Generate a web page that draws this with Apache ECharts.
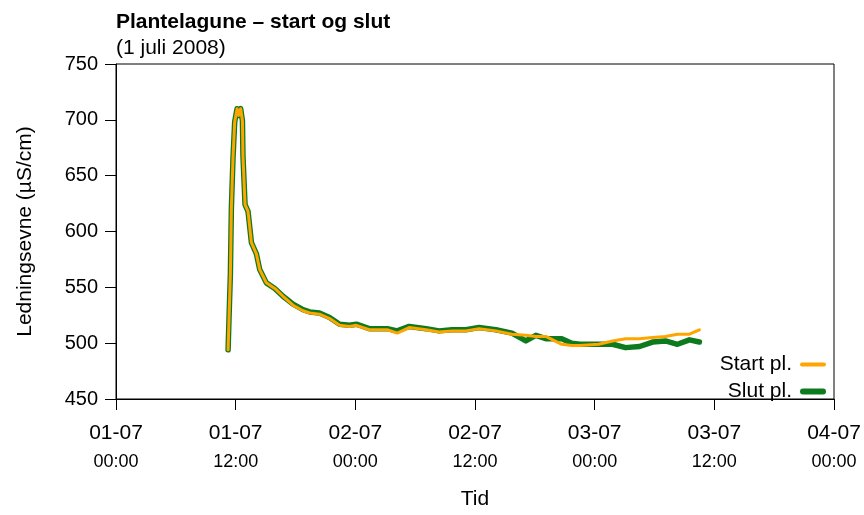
<!DOCTYPE html>
<html>
<head>
<meta charset="utf-8">
<script src="https://cdn.jsdelivr.net/npm/echarts@6/dist/echarts.min.js"></script>
<style>
html,body{margin:0;padding:0;background:#fff;}
#chart{width:864px;height:515px;}
</style>
</head>
<body>
<div id="chart"></div>
<script>
// Hours since 01-07 00:00
const hours = [11.24, 11.33, 11.47, 11.57, 11.73, 11.9, 12.14, 12.3, 12.5, 12.68, 12.73, 12.94, 13.24, 13.58, 14.08, 14.41, 15.08, 15.92, 16.75, 17.75, 18.75, 19.42, 20.4, 21.42, 22.42, 23.42, 24.1, 25.4, 27.2, 28.2, 29.4, 31.1, 32.4, 33.7, 35.1, 36.4, 38.1, 39.7, 41.1, 42.1, 43.1, 44.7, 45.7, 46.5, 48.4, 49.8, 51.1, 52.5, 53.8, 55.1, 56.3, 57.5, 58.5];
const startValues = [494, 521, 562, 621, 665, 698, 710, 704, 710, 699, 668, 624, 618, 590, 580, 566, 554, 549, 542, 534, 529, 527, 526, 522, 516, 515, 516, 512, 512, 509, 514, 512, 510, 511, 511, 513, 511, 508, 507, 506, 506, 499, 498, 498, 499, 502, 504, 504, 505, 506, 508, 508, 512];
const slutValues = [494, 521, 562, 621, 665, 698, 710, 704, 710, 699, 668, 624, 618, 590, 580, 566, 554, 549, 542, 535, 530, 528, 527, 523, 517, 516, 517, 513, 513, 511, 515, 513, 511, 512, 512, 514, 512, 509, 502, 507, 504, 504, 500, 499, 499, 499, 496, 497, 501, 502, 499, 503, 501];
const xTicksHours = [0, 12, 24, 36, 48, 60, 72];
const dayLabels = ['01-07', '01-07', '02-07', '02-07', '03-07', '03-07', '04-07'];
const timeLabels = ['00:00', '12:00', '00:00', '12:00', '00:00', '12:00', '00:00'];
const seriesNames = ['Start pl.', 'Slut pl.'];

const FONT = "'Liberation Sans', Arial, sans-serif";
const ORANGE = '#FFA500';
const GREEN = '#0E7A1E';

const chart = echarts.init(document.getElementById('chart'), null, {renderer: 'canvas'});
const option = {
  animation: false,
  backgroundColor: '#fff',
  textStyle: {fontFamily: FONT, color: '#000'},
  title: {
    text: 'Plantelagune – start og slut',
    subtext: '(1 juli 2008)',
    left: 112,
    top: 10,
    itemGap: 2,
    padding: [0, 0, 0, 4],
    textStyle: {fontFamily: FONT, fontSize: 21, fontWeight: 'bold', color: '#000', lineHeight: 24},
    subtextStyle: {fontFamily: FONT, fontSize: 21, color: '#000', lineHeight: 24}
  },
  legend: {
    orient: 'vertical',
    right: 33,
    top: 349,
    align: 'right',
    itemWidth: 26,
    itemHeight: 6,
    itemGap: 6,
    symbolKeepAspect: true,
    textStyle: {fontFamily: FONT, fontSize: 21, color: '#000', padding: [0, 3, 0, 0]},
    data: [
      {name: seriesNames[0], icon: 'path://M2,0 L24,0 A2,2 0 0 1 24,4 L2,4 A2,2 0 0 1 2,0 Z'},
      {name: seriesNames[1], icon: 'path://M3,0 L23,0 A3,3 0 0 1 23,6 L3,6 A3,3 0 0 1 3,0 Z'}
    ]
  },
  grid: {
    left: 116, right: 30, top: 64, bottom: 111,
    show: true, borderColor: '#000', borderWidth: 1,
    containLabel: false
  },
  xAxis: {
    type: 'value',
    min: 0, max: 72, interval: 12,
    name: 'Tid',
    nameLocation: 'middle',
    nameGap: 90,
    nameTextStyle: {fontFamily: FONT, fontSize: 21, color: '#000'},
    axisLine: {show: true, onZero: false, lineStyle: {color: '#000', width: 1}},
    axisTick: {show: true, length: 11, lineStyle: {color: '#000', width: 1}},
    splitLine: {show: false},
    axisLabel: {
      margin: 20,
      color: '#000',
      formatter: function (v) {
        const i = xTicksHours.indexOf(v);
        if (i < 0) return '';
        return '{a|' + dayLabels[i] + '}\n{b|' + timeLabels[i] + '}';
      },
      rich: {
        a: {fontFamily: FONT, fontSize: 21, lineHeight: 29, color: '#000'},
        b: {fontFamily: FONT, fontSize: 18, lineHeight: 29, color: '#000'}
      }
    }
  },
  yAxis: {
    type: 'value',
    min: 450, max: 750, interval: 50,
    name: 'Ledningsevne (µS/cm)',
    nameLocation: 'middle',
    nameGap: 80,
    nameTextStyle: {fontFamily: FONT, fontSize: 21, color: '#000'},
    axisLine: {show: true, lineStyle: {color: '#000', width: 1}},
    axisTick: {show: true, length: 11, lineStyle: {color: '#000', width: 1}},
    splitLine: {show: false},
    axisLabel: {margin: 18, fontFamily: FONT, fontSize: 20, color: '#000'}
  },
  series: [
    {
      name: seriesNames[0],
      type: 'line',
      data: hours.map((h, i) => [h, startValues[i]]),
      showSymbol: false,
      symbol: 'none',
      z: 3,
      color: ORANGE,
      itemStyle: {color: ORANGE},
      lineStyle: {color: ORANGE, width: 3, cap: 'round', join: 'round'}
    },
    {
      name: seriesNames[1],
      type: 'line',
      data: hours.map((h, i) => [h, slutValues[i]]),
      showSymbol: false,
      symbol: 'none',
      z: 2,
      color: GREEN,
      itemStyle: {color: GREEN},
      lineStyle: {color: GREEN, width: 5.5, cap: 'round', join: 'round'}
    }
  ]
};
chart.setOption(option);
</script>
</body>
</html>
